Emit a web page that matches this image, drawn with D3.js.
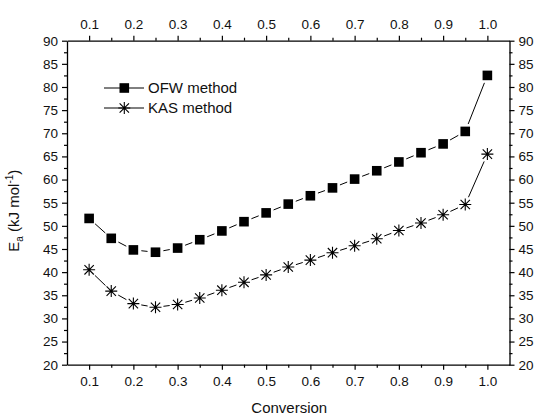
<!DOCTYPE html>
<html>
<head>
<meta charset="utf-8">
<script src="https://cdn.jsdelivr.net/npm/d3@7"></script>
<style>
  html, body { margin: 0; padding: 0; background: #fff; }
  svg { display: block; font-family: "Liberation Sans", Arial, sans-serif; }
</style>
</head>
<body>
<svg id="chart" width="538" height="417"></svg>
<script>
// Conversion levels and activation energies (kJ/mol) from two isoconversional methods
const conversion = [0.10, 0.15, 0.20, 0.25, 0.30, 0.35, 0.40, 0.45, 0.50, 0.55,
                    0.60, 0.65, 0.70, 0.75, 0.80, 0.85, 0.90, 0.95, 1.00];
const ofwEa = [51.6, 47.3, 44.8, 44.3, 45.2, 47.0, 48.9, 50.9, 52.8, 54.7,
               56.5, 58.2, 60.1, 61.9, 63.8, 65.8, 67.7, 70.4, 82.5];
const kasEa = [40.5, 35.9, 33.2, 32.4, 33.0, 34.4, 36.1, 37.8, 39.4, 41.1,
               42.6, 44.2, 45.7, 47.2, 49.0, 50.6, 52.4, 54.6, 65.5];
const seriesNames = ["OFW method", "KAS method"];
const xTickValues = [0.1, 0.2, 0.3, 0.4, 0.5, 0.6, 0.7, 0.8, 0.9, 1.0];
const xMinorValues = [0.15, 0.25, 0.35, 0.45, 0.55, 0.65, 0.75, 0.85, 0.95];
const yTickValues = [20, 25, 30, 35, 40, 45, 50, 55, 60, 65, 70, 75, 80, 85, 90];
const yMinorValues = [22.5, 27.5, 32.5, 37.5, 42.5, 47.5, 52.5, 57.5, 62.5, 67.5, 72.5, 77.5, 82.5, 87.5];

const svg = d3.select("#chart");
const plotL = 67, plotR = 509.5, plotT = 40.7, plotB = 364.7;

const x = d3.scaleLinear().domain([0.05, 1.05]).range([plotL, plotR]);
const y = d3.scaleLinear().domain([20, 90]).range([plotB, plotT]);

const tickFont = "13.5px";
const fmtX = d3.format(".1f");

function styleAxis(g) {
  g.select(".domain").attr("stroke", "#000").attr("stroke-width", 1.3);
  g.selectAll(".tick line").attr("stroke", "#000").attr("stroke-width", 1.2);
  g.selectAll("text").attr("fill", "#111").style("font-size", tickFont)
    .style("font-family", "'Liberation Sans', Arial, sans-serif");
}
function minor(g) {
  g.select(".domain").remove();
  g.selectAll("line").attr("stroke", "#000").attr("stroke-width", 1.2);
}

// Bottom axis
const gB = svg.append("g").attr("transform", `translate(0,${plotB})`)
  .call(d3.axisBottom(x).tickValues(xTickValues).tickFormat(fmtX).tickSize(5).tickSizeOuter(0).tickPadding(7));
styleAxis(gB);
svg.append("g").attr("transform", `translate(0,${plotB})`)
  .call(d3.axisBottom(x).tickValues(xMinorValues).tickFormat("").tickSize(3).tickSizeOuter(0))
  .call(minor);

// Top axis
const gT = svg.append("g").attr("transform", `translate(0,${plotT})`)
  .call(d3.axisTop(x).tickValues(xTickValues).tickFormat(fmtX).tickSize(5).tickSizeOuter(0).tickPadding(7));
styleAxis(gT);
svg.append("g").attr("transform", `translate(0,${plotT})`)
  .call(d3.axisTop(x).tickValues(xMinorValues).tickFormat("").tickSize(3).tickSizeOuter(0))
  .call(minor);

// Left axis
const gL = svg.append("g").attr("transform", `translate(${plotL},0)`)
  .call(d3.axisLeft(y).tickValues(yTickValues).tickSize(5).tickSizeOuter(0).tickPadding(4));
styleAxis(gL);
svg.append("g").attr("transform", `translate(${plotL},0)`)
  .call(d3.axisLeft(y).tickValues(yMinorValues).tickFormat("").tickSize(3).tickSizeOuter(0))
  .call(minor);

// Right axis
const gR = svg.append("g").attr("transform", `translate(${plotR},0)`)
  .call(d3.axisRight(y).tickValues(yTickValues).tickSize(5).tickSizeOuter(0).tickPadding(4));
styleAxis(gR);
svg.append("g").attr("transform", `translate(${plotR},0)`)
  .call(d3.axisRight(y).tickValues(yMinorValues).tickFormat("").tickSize(3).tickSizeOuter(0))
  .call(minor);

// Axis titles
svg.append("text")
  .attr("x", (plotL + plotR) / 2 + 1).attr("y", 413)
  .attr("text-anchor", "middle").style("font-size", "15px").attr("fill", "#111")
  .text("Conversion");

const yTitle = svg.append("text")
  .attr("transform", `translate(19,${(plotT + plotB) / 2 + 8}) rotate(-90)`)
  .attr("text-anchor", "middle").style("font-size", "15px").attr("fill", "#111");
yTitle.append("tspan").text("E");
yTitle.append("tspan").attr("dy", 4).style("font-size", "10px").text("a");
yTitle.append("tspan").attr("dy", -4).text(" (kJ mol");
yTitle.append("tspan").attr("dy", -6).style("font-size", "10px").text("-1");
yTitle.append("tspan").attr("dy", 6).text(")");

// Connecting lines with gaps around each marker
const gap = 8;
function drawSeries(values) {
  const pts = conversion.map((c, i) => [x(c), y(values[i])]);
  const g = svg.append("g");
  for (let i = 0; i < pts.length - 1; i++) {
    const [x1, y1] = pts[i], [x2, y2] = pts[i + 1];
    const dx = x2 - x1, dy = y2 - y1, len = Math.hypot(dx, dy);
    if (len <= 2 * gap) continue;
    const ux = dx / len, uy = dy / len;
    g.append("line")
      .attr("x1", x1 + ux * gap).attr("y1", y1 + uy * gap)
      .attr("x2", x2 - ux * gap).attr("y2", y2 - uy * gap)
      .attr("stroke", "#000").attr("stroke-width", 1);
  }
  return pts;
}

function square(g, cx, cy) {
  g.append("rect").attr("x", cx - 4.8).attr("y", cy - 4.8)
    .attr("width", 9.6).attr("height", 9.6).attr("fill", "#000");
}
function star(g, cx, cy) {
  const r = 6, d = r * 0.78;
  const p = `M${cx - r},${cy}L${cx + r},${cy}M${cx},${cy - r}L${cx},${cy + r}` +
            `M${cx - d},${cy - d}L${cx + d},${cy + d}M${cx - d},${cy + d}L${cx + d},${cy - d}`;
  g.append("path").attr("d", p).attr("stroke", "#000").attr("stroke-width", 1.1).attr("fill", "none");
}

const ofwPts = drawSeries(ofwEa);
const kasPts = drawSeries(kasEa);
const mk = svg.append("g");
ofwPts.forEach(([px, py]) => square(mk, px, py));
kasPts.forEach(([px, py]) => star(mk, px, py));

// Legend
const legend = svg.append("g");
const legendRows = [
  { name: seriesNames[0], draw: square, yy: 88 },
  { name: seriesNames[1], draw: star, yy: 108 }
];
legendRows.forEach(r => {
  legend.append("line").attr("x1", 104).attr("x2", 144).attr("y1", r.yy).attr("y2", r.yy)
    .attr("stroke", "#000").attr("stroke-width", 1);
  r.draw(legend, 124.3, r.yy);
  legend.append("text").attr("x", 148).attr("y", r.yy + 5.2)
    .style("font-size", "15px").attr("fill", "#111").text(r.name);
});
</script>
</body>
</html>
